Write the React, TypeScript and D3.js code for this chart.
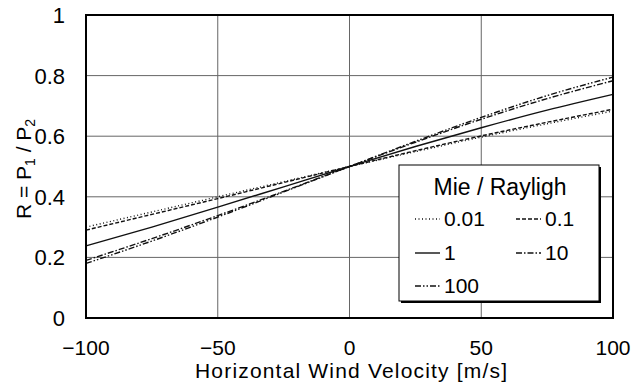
import React, { useEffect, useRef } from 'react';
import * as d3 from 'd3';

const velocities = [-100, -75, -50, -25, 0, 25, 50, 75, 100];
const ratio001 = [0.3, 0.35, 0.4, 0.45, 0.5, 0.549, 0.597, 0.641, 0.683];
const ratio01 = [0.29, 0.342, 0.394, 0.447, 0.5, 0.552, 0.601, 0.646, 0.689];
const ratio1 = [0.238, 0.3, 0.366, 0.433, 0.5, 0.566, 0.628, 0.686, 0.738];
const ratio10 = [0.19, 0.262, 0.338, 0.418, 0.5, 0.58, 0.656, 0.724, 0.783];
const ratio100 = [0.18, 0.254, 0.333, 0.416, 0.5, 0.583, 0.662, 0.734, 0.795];

const seriesNames = ['0.01', '0.1', '1', '10', '100'];
const seriesValues = [ratio001, ratio01, ratio1, ratio10, ratio100];
const dashes = ['1,2.5', '4,2', '', '6,2,1.5,2', '6,2,1.5,2,1.5,2'];

const xTicks = [-100, -50, 0, 50, 100];
const yTicks = [0, 0.2, 0.4, 0.6, 0.8, 1];

const FONT = 'Arial, "Liberation Sans", "Noto Sans CJK JP", sans-serif';

const App: React.FC = () => {
  const svgRef = useRef<SVGSVGElement>(null);

  useEffect(() => {
    if (!svgRef.current) return;
    const svg = d3.select(svgRef.current);
    svg.selectAll('*').remove();

    const left = 86, right = 613, top = 15, bottom = 318;
    const x = d3.scaleLinear().domain([-100, 100]).range([left, right]);
    const y = d3.scaleLinear().domain([0, 1]).range([bottom, top]);

    // grid
    const grid = svg.append('g');
    grid.selectAll('.gx')
      .data(xTicks.slice(1, -1))
      .enter()
      .append('line')
      .attr('x1', d => x(d)).attr('x2', d => x(d))
      .attr('y1', top).attr('y2', bottom)
      .attr('stroke', '#666').attr('stroke-width', 1);
    grid.selectAll('.gy')
      .data(yTicks.slice(1, -1))
      .enter()
      .append('line')
      .attr('x1', left).attr('x2', right)
      .attr('y1', d => y(d)).attr('y2', d => y(d))
      .attr('stroke', '#666').attr('stroke-width', 1);

    // curves
    const line = d3.line<number>()
      .x((_, i) => x(velocities[i]))
      .y(d => y(d))
      .curve(d3.curveMonotoneX);

    seriesValues.forEach((vals, i) => {
      svg.append('path')
        .attr('d', line(vals) || '')
        .attr('fill', 'none')
        .attr('stroke', '#111')
        .attr('stroke-width', 1.4)
        .attr('stroke-dasharray', dashes[i] || null);
    });

    // frame
    svg.append('rect')
      .attr('x', left).attr('y', top)
      .attr('width', right - left).attr('height', bottom - top)
      .attr('fill', 'none').attr('stroke', '#000').attr('stroke-width', 2);

    // tick labels
    svg.selectAll('.xt')
      .data(xTicks)
      .enter()
      .append('text')
      .attr('x', d => x(d))
      .attr('y', 355)
      .attr('text-anchor', 'middle')
      .attr('font-size', 21)
      .attr('font-family', FONT)
      .text(d => (d < 0 ? '\u2212' + Math.abs(d) : String(d)));

    svg.selectAll('.yt')
      .data(yTicks)
      .enter()
      .append('text')
      .attr('x', 65)
      .attr('y', d => y(d) + 8)
      .attr('text-anchor', 'end')
      .attr('font-size', 22)
      .attr('font-family', FONT)
      .text(d => String(d));

    // axis titles
    svg.append('text')
      .attr('x', 195)
      .attr('y', 378)
      .attr('font-size', 21)
      .attr('font-family', FONT)
      .attr('textLength', 312)
      .attr('lengthAdjust', 'spacing')
      .text('Horizontal Wind Velocity [m/s]');

    const yTitle = svg.append('text')
      .attr('transform', 'translate(31,169) rotate(-90)')
      .attr('text-anchor', 'middle')
      .attr('font-size', 21)
      .attr('font-family', FONT);
    yTitle.append('tspan').text('R = P');
    yTitle.append('tspan').attr('font-size', 14).attr('dy', 4).text('1');
    yTitle.append('tspan').attr('dy', -4).text(' / P');
    yTitle.append('tspan').attr('font-size', 14).attr('dy', 4).text('2');

    // legend
    const lx = 399, ly = 165, lw = 200, lh = 136;
    svg.append('rect')
      .attr('x', lx + 2).attr('y', ly + 2)
      .attr('width', lw).attr('height', lh)
      .attr('fill', '#000');
    svg.append('rect')
      .attr('x', lx).attr('y', ly)
      .attr('width', lw).attr('height', lh)
      .attr('fill', '#fff').attr('stroke', '#000').attr('stroke-width', 1);
    svg.append('text')
      .attr('x', lx + lw / 2 + 1)
      .attr('y', ly + 30)
      .attr('text-anchor', 'middle')
      .attr('font-size', 23)
      .attr('font-family', FONT)
      .text('Mie / Rayligh');

    const cols = [lx + 16, lx + 117];
    const rows = [ly + 54, ly + 88, ly + 121];
    seriesNames.forEach((name, i) => {
      const cx = cols[i % 2];
      const cy = rows[Math.floor(i / 2)];
      svg.append('line')
        .attr('x1', cx).attr('x2', cx + 25)
        .attr('y1', cy).attr('y2', cy)
        .attr('stroke', '#111').attr('stroke-width', 1.4)
        .attr('stroke-dasharray', dashes[i] || null);
      svg.append('text')
        .attr('x', cx + 29)
        .attr('y', cy + 7)
        .attr('font-size', 21)
        .attr('font-family', FONT)
        .text(name);
    });
  }, []);

  return (
    <div style={{ position: 'absolute', left: 0, top: 0 }}>
      <svg ref={svgRef} width={635} height={384} style={{ display: 'block', background: '#fff' }} />
    </div>
  );
};

export default App;
